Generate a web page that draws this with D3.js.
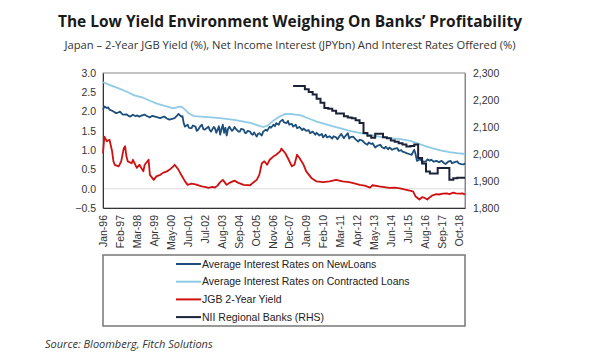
<!DOCTYPE html>
<html>
<head>
<meta charset="utf-8">
<script src="https://cdn.jsdelivr.net/npm/d3@7"></script>
<style>
  body { margin: 0; background: #fff; }
  text { font-family: "Liberation Sans", Arial, sans-serif; }
</style>
</head>
<body>
<svg id="chart" width="601" height="360"></svg>
<script>
// month offsets from Jan-1996, value
const newLoans = [
  [0,2.05],[1,2.13],[3,2.09],[4,2.11],[5,2.05],[7,2.02],[8,2.00],[10,1.96],[12,1.98],[13,2.00],
  [15,1.93],[16,1.92],[18,1.93],[20,1.88],[21,1.87],[23,1.92],[25,1.88],[26,1.90],[28,1.87],[30,1.90],
  [32,1.92],[34,1.88],[36,1.85],[38,1.89],[40,1.87],[42,1.85],[44,1.83],[46,1.86],[47,1.87],[49,1.82],
  [51,1.79],[53,1.81],[55,1.83],[57,1.90],[58,1.94],[60,1.87],[61,1.88],[62,1.70],[63,1.61],[65,1.66],
  [66,1.58],[68,1.57],[69,1.64],[71,1.61],[72,1.50],[73,1.53],[75,1.63],[76,1.66],[77,1.55],[78,1.53],
  [80,1.58],[81,1.61],[82,1.52],[83,1.48],[85,1.60],[86,1.57],[87,1.45],[88,1.53],[89,1.62],[90,1.40],
  [91,1.55],[92,1.66],[93,1.45],[94,1.58],[95,1.38],[96,1.55],[97,1.61],[99,1.50],[100,1.53],[101,1.60],
  [102,1.55],[104,1.48],[105,1.48],[106,1.55],[108,1.53],[109,1.45],[110,1.44],[111,1.50],[113,1.48],[114,1.42],
  [115,1.40],[116,1.46],[118,1.35],[119,1.42],[120,1.44],[122,1.38],[123,1.48],[125,1.53],[126,1.50],[128,1.61],
  [129,1.58],[131,1.66],[132,1.62],[133,1.70],[135,1.66],[136,1.74],[138,1.79],[139,1.72],[141,1.70],[142,1.76],
  [143,1.66],[145,1.68],[146,1.61],[148,1.66],[149,1.57],[151,1.60],[153,1.52],[154,1.56],[156,1.50],[158,1.52],
  [159,1.44],[161,1.48],[163,1.40],[164,1.45],[166,1.38],[168,1.42],[169,1.33],[171,1.40],[172,1.33],[174,1.36],
  [176,1.30],[177,1.36],[179,1.33],[180,1.28],[182,1.38],[183,1.42],[185,1.31],[186,1.36],[188,1.44],[189,1.30],
  [190,1.34],[192,1.35],[194,1.28],[196,1.22],[197,1.27],[199,1.25],[201,1.18],[203,1.14],[204,1.20],[206,1.16],
  [207,1.18],[209,1.07],[211,1.12],[213,1.14],[214,1.08],[216,1.04],[217,1.09],[219,1.02],[220,1.07],[222,1.01],
  [224,1.04],[226,1.05],[227,0.98],[229,1.00],[230,0.96],[232,0.94],[233,0.92],[235,0.90],[237,0.88],[238,0.95],
  [239,1.01],[240,0.90],[241,0.72],[243,0.76],[244,0.75],[246,0.70],[248,0.71],[249,0.76],[251,0.73],[252,0.75],
  [254,0.70],[256,0.72],[258,0.69],[260,0.72],[262,0.66],[263,0.64],[265,0.70],[267,0.72],[268,0.66],[270,0.69],
  [272,0.71],[273,0.66],[275,0.64],[277,0.63],[278,0.66]
];

const contractedLoans = [
  [0,2.76],[6,2.68],[12,2.60],[18,2.52],[24,2.42],[30,2.37],[36,2.28],[42,2.20],[48,2.14],[54,2.08],
  [58,2.12],[60,2.13],[63,2.05],[66,1.95],[70,1.88],[78,1.86],[90,1.83],[102,1.78],[114,1.70],[120,1.63],
  [123,1.60],[126,1.63],[130,1.74],[135,1.86],[140,1.94],[146,1.93],[152,1.90],[158,1.82],[164,1.74],[170,1.68],
  [176,1.62],[182,1.57],[188,1.51],[194,1.47],[200,1.43],[206,1.39],[212,1.35],[218,1.32],[224,1.30],[230,1.28],
  [236,1.24],[241,1.18],[248,1.10],[254,1.04],[260,0.99],[266,0.95],[272,0.92],[278,0.90]
];

const jgb2y = [
  [0,0.92],[1,1.35],[3,1.23],[5,1.27],[7,0.97],[8,0.71],[9,0.62],[12,0.58],[14,0.71],[16,1.05],
  [17,1.10],[18,0.84],[19,0.71],[22,0.66],[23,0.75],[26,0.54],[28,0.62],[31,0.45],[32,0.62],[35,0.75],
  [36,0.36],[39,0.23],[41,0.32],[44,0.36],[46,0.41],[49,0.45],[51,0.49],[54,0.58],[55,0.62],[58,0.49],
  [60,0.36],[63,0.19],[65,0.10],[68,0.13],[71,0.11],[74,0.08],[76,0.06],[79,0.04],[81,0.02],[84,0.05],
  [86,0.03],[88,0.08],[90,0.17],[92,0.23],[95,0.10],[97,0.15],[101,0.21],[104,0.15],[108,0.10],[113,0.09],
  [115,0.15],[118,0.23],[120,0.36],[122,0.66],[124,0.71],[126,0.62],[128,0.75],[131,0.84],[133,0.88],[136,0.97],
  [137,1.04],[140,0.92],[142,0.79],[145,0.58],[147,0.62],[149,0.88],[151,0.79],[154,0.62],[156,0.45],[160,0.28],
  [164,0.19],[169,0.17],[174,0.19],[179,0.23],[184,0.19],[189,0.17],[193,0.14],[197,0.10],[201,0.08],[205,0.03],
  [207,0.09],[212,0.06],[216,0.04],[220,0.02],[224,0.03],[228,0.01],[233,-0.03],[238,-0.07],[240,-0.20],[243,-0.28],
  [245,-0.22],[247,-0.24],[249,-0.28],[251,-0.22],[253,-0.17],[256,-0.14],[258,-0.15],[261,-0.13],[264,-0.12],[266,-0.14],
  [269,-0.10],[271,-0.12],[274,-0.13],[276,-0.12],[278,-0.15]
];

const niiRegional = [
  [146,2252],[149,2252],[152,2252],[155,2240],[158,2230],[161,2220],[164,2205],[167,2190],[170,2170],[173,2168],
  [176,2160],[179,2150],[182,2150],[185,2140],[188,2135],[191,2132],[194,2125],[197,2115],[200,2078],[203,2068],
  [206,2060],[209,2075],[212,2075],[215,2062],[218,2058],[221,2050],[224,2045],[227,2040],[230,2035],[233,2028],
  [236,2030],[239,2035],[242,1985],[245,1965],[248,1935],[251,1928],[254,1928],[257,1948],[260,1948],[263,1948],
  [266,1905],[269,1910],[272,1912],[275,1912],[278,1912]
];

const leftTicks = [-0.5, 0, 0.5, 1, 1.5, 2, 2.5, 3];
const rightTicks = [1800, 1900, 2000, 2100, 2200, 2300];
const xTickMonths = d3.range(0, 274, 13);

const seriesNames = [
  "Average Interest Rates on NewLoans",
  "Average Interest Rates on Contracted Loans",
  "JGB 2-Year Yield",
  "NII Regional Banks (RHS)"
];
const seriesColors = ["#1d4f7c", "#8fcbe6", "#d01010", "#1b2238"];

const svg = d3.select("#chart");
const margin = {top: 73, right: 136, bottom: 152, left: 103};
const width = 601, height = 360;

const toDate = m => new Date(1996, m, 1);

const x = d3.scaleTime()
    .domain([toDate(0), toDate(278)])
    .range([margin.left, width - margin.right]);

const yL = d3.scaleLinear()
    .domain([-0.5, 3])
    .range([height - margin.bottom, margin.top]);

const yR = d3.scaleLinear()
    .domain([1800, 2300])
    .range([height - margin.bottom, margin.top]);

// title block
svg.append("text")
    .attr("x", 290).attr("y", 27)
    .attr("text-anchor", "middle")
    .style("font-family", "'Open Sans', sans-serif")
    .style("font-weight", "bold")
    .style("font-size", "15.5px")
    .attr("fill", "#1a1a1a")
    .text("The Low Yield Environment Weighing On Banks’ Profitability");

svg.append("text")
    .attr("x", 290).attr("y", 49)
    .attr("text-anchor", "middle")
    .style("font-family", "'Open Sans', sans-serif")
    .style("font-size", "11.2px")
    .attr("fill", "#333")
    .text("Japan – 2-Year JGB Yield (%), Net Income Interest (JPYbn) And Interest Rates Offered (%)");

// zero line
svg.append("line")
    .attr("x1", margin.left).attr("x2", width - margin.right)
    .attr("y1", yL(0)).attr("y2", yL(0))
    .attr("stroke", "#ddd").attr("stroke-width", 1);

// frame
svg.append("rect")
    .attr("x", margin.left).attr("y", margin.top)
    .attr("width", width - margin.right - margin.left)
    .attr("height", height - margin.bottom - margin.top)
    .attr("fill", "none").attr("stroke", "#888").attr("stroke-width", 1);

const leftAxis = svg.append("g")
    .attr("transform", `translate(${margin.left},0)`)
    .call(d3.axisLeft(yL).tickValues(leftTicks).tickFormat(d3.format(".1f")).tickSize(0).tickPadding(7));

const rightAxis = svg.append("g")
    .attr("transform", `translate(${width - margin.right},0)`)
    .call(d3.axisRight(yR).tickValues(rightTicks).tickFormat(d3.format(",")).tickSize(0).tickPadding(8));

const xAxis = svg.append("g")
    .attr("transform", `translate(0,${height - margin.bottom})`)
    .call(d3.axisBottom(x).tickValues(xTickMonths.map(toDate)).tickFormat(d3.timeFormat("%b-%y")).tickSize(0));

xAxis.selectAll("text")
    .attr("transform", "rotate(-90)")
    .attr("text-anchor", "end")
    .attr("x", -7)
    .attr("y", 0)
    .attr("dy", "0.35em");

[leftAxis, rightAxis, xAxis].forEach(g => {
    g.selectAll("text").attr("fill", "#333").style("font-size", "10.5px")
        .style("font-family", "'Liberation Sans', Arial, sans-serif");
});
leftAxis.select(".domain").attr("stroke", "#333");
xAxis.select(".domain").attr("stroke", "#333");
rightAxis.select(".domain").attr("stroke", "#888");

// series
const lineL = d3.line().x(d => x(toDate(d[0]))).y(d => yL(d[1]));
const lineR = d3.line().x(d => x(toDate(d[0]))).y(d => yR(d[1])).curve(d3.curveStepAfter);

const leftSeries = [contractedLoans, jgb2y, newLoans];
const leftColors = [seriesColors[1], seriesColors[2], seriesColors[0]];

leftSeries.forEach((s, i) => {
    svg.append("path")
        .datum(s)
        .attr("fill", "none")
        .attr("stroke", leftColors[i])
        .attr("stroke-width", 1.8)
        .attr("stroke-linejoin", "round")
        .attr("d", lineL);
});

svg.append("path")
    .datum(niiRegional)
    .attr("fill", "none")
    .attr("stroke", seriesColors[3])
    .attr("stroke-width", 2)
    .attr("d", lineR);

// legend
svg.append("rect")
    .attr("x", 103).attr("y", 255)
    .attr("width", 362).attr("height", 71)
    .attr("fill", "none").attr("stroke", "#777").attr("stroke-width", 1.5);

const legend = svg.append("g");
seriesNames.forEach((name, i) => {
    const yy = 264 + i * 17.7;
    legend.append("line")
        .attr("x1", 176).attr("x2", 201)
        .attr("y1", yy).attr("y2", yy)
        .attr("stroke", seriesColors[i]).attr("stroke-width", 2);
    legend.append("text")
        .attr("x", 202).attr("y", yy)
        .attr("dy", "0.35em")
        .attr("fill", "#222")
        .style("font-size", "10.5px")
        .text(name);
});

svg.append("text")
    .attr("x", 45).attr("y", 348)
    .style("font-family", "'Open Sans', sans-serif")
    .style("font-style", "italic")
    .style("font-size", "11px")
    .attr("fill", "#333")
    .text("Source: Bloomberg, Fitch Solutions");
</script>
</body>
</html>
